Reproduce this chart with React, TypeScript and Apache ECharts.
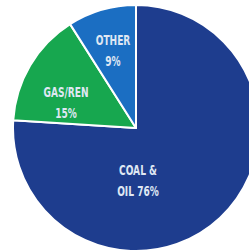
import React, { useEffect, useRef } from "react";
import * as echarts from "echarts";

const categories = ["COAL & OIL", "GAS/REN", "OTHER"];
const values = [76, 15, 9];
const labelTexts = ["COAL &\nOIL 76%", "GAS/REN\n15%", "OTHER\n9%"];
const colors = ["#1e3d8e", "#17a74f", "#1b6ec2"];
const labelPositions: [number, number][] = [
  [138, 181],
  [66, 103],
  [113, 51],
];

export default function App() {
  const ref = useRef<HTMLDivElement>(null);
  useEffect(() => {
    if (!ref.current) return;
    const chart = echarts.init(ref.current, null, { renderer: "svg" });
    chart.setOption({
      animation: false,
      backgroundColor: "#ffffff",
      graphic: labelTexts.map((t, i) => ({
        type: "text",
        x: labelPositions[i][0],
        y: labelPositions[i][1],
        scaleX: 0.72,
        z: 100,
        silent: true,
        style: {
          text: t,
          fill: "#dfe7f3",
          font: "bold 14px 'DejaVu Sans Condensed', 'DejaVu Sans', sans-serif",
          textAlign: "center",
          textVerticalAlign: "middle",
          lineHeight: 21,
        },
      })),
      series: [
        {
          type: "pie",
          center: [136, 128],
          radius: 123,
          startAngle: 90,
          clockwise: true,
          silent: true,
          itemStyle: { borderColor: "#ffffff", borderWidth: 2 },
          label: { show: false },
          labelLine: { show: false },
          data: categories.map((c, i) => ({
            name: c,
            value: values[i],
            itemStyle: { color: colors[i] },
          })),
        },
      ],
    });
    return () => chart.dispose();
  }, []);
  return (
    <div
      ref={ref}
      style={{ position: "fixed", left: 0, top: 0, width: 249, height: 252 }}
    />
  );
}
